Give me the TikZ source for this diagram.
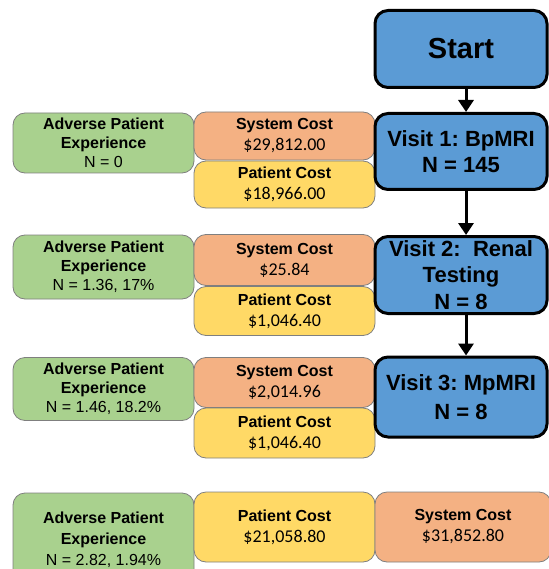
\documentclass[tikz,border=0pt]{standalone}
\usepackage{fontspec}
\setmainfont{Liberation Sans}
\newfontfamily\calfont{Carlito}
\usetikzlibrary{arrows.meta}
\frenchspacing
\definecolor{cgreen}{HTML}{A9D18E}
\definecolor{corange}{HTML}{F4B183}
\definecolor{cyellow}{HTML}{FFD966}
\definecolor{cblue}{HTML}{5B9BD5}
\definecolor{cedge}{HTML}{7F7F7F}
\newcommand{\ttl}[1]{\textbf{#1}}
\newcommand{\val}[1]{{\calfont\fontsize{18}{21}\selectfont #1}}
\begin{document}
\frenchspacing
\begin{tikzpicture}[x=1pt,y=-1pt,
 sbox/.style={draw=cedge, line width=0.8pt, rounded corners=12pt, align=center, inner sep=0pt,
   font=\fontsize{16}{19}\selectfont},
 gbox/.style={sbox, fill=cgreen},
 obox/.style={sbox, fill=corange, font=\fontsize{16}{21}\selectfont},
 ybox/.style={sbox, fill=cyellow, font=\fontsize{16}{21}\selectfont},
 vbox/.style={draw=black, line width=3pt, rounded corners=13pt, fill=cblue, align=center,
   inner sep=0pt, font=\fontsize{22}{26.5}\selectfont\bfseries},
 arr/.style={line width=3pt, -{Triangle[length=12pt,width=15pt]}}
]
\useasboundingbox (0,0) rectangle (548,569);

% green boxes
\node[gbox, minimum width=181, minimum height=60] (g1) at (103.5,143) {\ttl{Adverse Patient}\\\ttl{Experience}\\N = 0};
\node[gbox, minimum width=181, minimum height=64] (g2) at (103.5,267) {\ttl{Adverse Patient}\\\ttl{Experience}\\N = 1.36, 17\%};
\node[gbox, minimum width=181, minimum height=63] (g3) at (103.5,389) {\ttl{Adverse Patient}\\\ttl{Experience}\\N = 1.46, 18.2\%};
\node[gbox, minimum width=181, minimum height=94, font=\fontsize{16}{21}\selectfont] (g4) at (103.5,540) {\ttl{Adverse Patient}\\\ttl{Experience}\\N = 2.82, 1.94\%};

% orange / yellow boxes
\node[obox, minimum width=181, minimum height=48] (o1) at (284.5,136) {\ttl{System Cost}\\\val{\$29,812.00}};
\node[ybox, minimum width=181, minimum height=47] (y1) at (284.5,184.5) {\ttl{Patient Cost}\\\val{\$18,966.00}};
\node[obox, minimum width=181, minimum height=51] (o2) at (284.5,260) {\ttl{System Cost}\\\val{\$25.84}};
\node[ybox, minimum width=181, minimum height=49] (y2) at (284.5,311) {\ttl{Patient Cost}\\\val{\$1,046.40}};
\node[obox, minimum width=181, minimum height=50] (o3) at (284.5,382.5) {\ttl{System Cost}\\\val{\$2,014.96}};
\node[ybox, minimum width=181, minimum height=50] (y3) at (284.5,433) {\ttl{Patient Cost}\\\val{\$1,046.40}};
\node[ybox, minimum width=181, minimum height=70] (y4) at (284.5,527) {\ttl{Patient Cost}\\\val{\$21,058.80}};
\node[obox, minimum width=176, minimum height=70] (o4) at (463,527) {\ttl{System Cost}\\\val{\$31,852.80}};

% blue boxes
\node[vbox, minimum width=172, minimum height=77, font=\fontsize{29}{33}\selectfont\bfseries] (st) at (461,49) {Start};
\node[vbox, minimum width=172, minimum height=76] (v1) at (461,151.5) {Visit 1: BpMRI\\N = 145};
\node[vbox, minimum width=172, minimum height=77] (v2) at (461,275) {Visit 2:\ \ Renal\\Testing\\N = 8};
\node[vbox, minimum width=172, minimum height=80, font=\fontsize{22}{29}\selectfont\bfseries] (v3) at (461,397) {Visit 3: MpMRI\\N = 8};

% arrows
\draw[arr] ([xshift=5pt]st.south) -- ([xshift=5pt]v1.north);
\draw[arr] ([xshift=5pt]v1.south) -- ([xshift=5pt]v2.north);
\draw[arr] ([xshift=5pt]v2.south) -- ([xshift=5pt]v3.north);
\end{tikzpicture}
\end{document}
